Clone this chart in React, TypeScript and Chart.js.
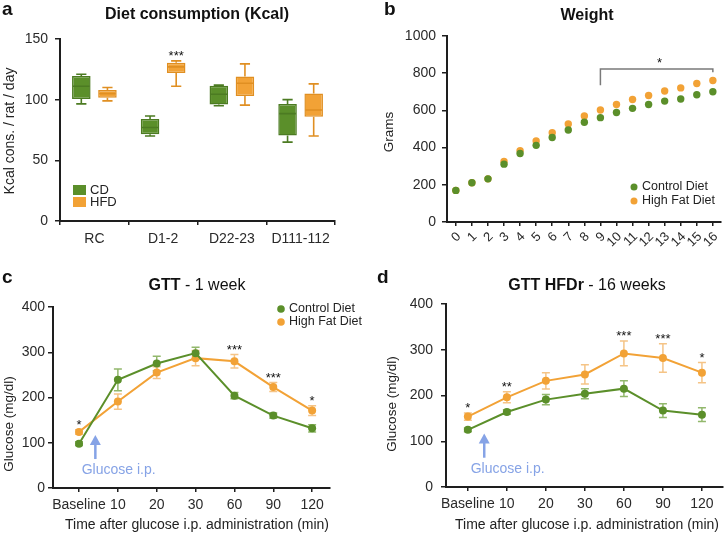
import React, { useEffect, useRef } from 'react';
import { Chart, registerables } from 'chart.js';

Chart.register(...registerables);

// ---------------- data ----------------
const dietCategories = ['RC', 'D1-2', 'D22-23', 'D111-112'];
const cdMin = [96.5, 70, 95, 65];
const cdQ1 = [100.5, 71.5, 96, 70.5];
const cdMedian = [111, 77, 104.5, 88.5];
const cdQ3 = [119.5, 84, 111.5, 96.5];
const cdMax = [121, 86.5, 112, 100];
const hfdMin = [99, 111, 95.5, 70];
const hfdQ1 = [101.5, 122, 103, 86];
const hfdMedian = [105, 127, 113.5, 91.5];
const hfdQ3 = [108, 130.5, 119, 105];
const hfdMax = [110, 132, 129.5, 113];
const dietStars = ['', '***', '', ''];
const dietTicks = [0, 50, 100, 150];

const weekLabels = ['0', '1', '2', '3', '4', '5', '6', '7', '8', '9', '10', '11', '12', '13', '14', '15', '16'];
const weightCD = [170, 211, 232, 311, 368, 412, 454, 495, 536, 561, 589, 611, 632, 650, 661, 684, 700];
const weightHFD = [170, 211, 232, 325, 384, 436, 480, 527, 570, 602, 632, 659, 680, 704, 721, 745, 761];
const weightBracket = [9, 16];

const gttLabels = ['Baseline', '10', '20', '30', '60', '90', '120'];
const gtt1CD = [98, 239, 275, 298, 204, 160, 132];
const gtt1CDErr = [4, 24, 16, 13, 7, 6, 8];
const gtt1HFD = [124, 191, 255, 287, 280, 223, 171];
const gtt1HFDErr = [5, 17, 13, 17, 15, 10, 11];
const gtt1Stars = ['*', '', '', '', '***', '***', '*'];

const gtt16CD = [125, 164, 191, 204, 215, 167, 158];
const gtt16CDErr = [4, 5, 11, 11, 17, 15, 15];
const gtt16HFD = [154, 196, 232, 246, 292, 282, 250];
const gtt16HFDErr = [8, 12, 18, 21, 27, 31, 22];
const gtt16Stars = ['*', '**', '', '', '***', '***', '*'];

// ---------------- style ----------------
const FONT = "'Liberation Sans', Arial, Helvetica, sans-serif";
const GREEN = '#5b8f2a';
const GREEN_DARK = '#4c7b22';
const GREEN_ERR = '#92b86c';
const ORANGE = '#f2a236';
const ORANGE_DARK = '#e08f22';
const ORANGE_ERR = '#f5c486';
const AXIS = '#1e1e1e';
const TEXT = '#222222';
const ARROW = '#86a3e6';
const BRACKET = '#7a7a7a';

Chart.defaults.font.family = FONT;
Chart.defaults.color = TEXT;

type Box = { left: number; top: number; right: number; bottom: number; w: number; h: number };

function font(size: number, bold = false) {
  return `${bold ? 'bold ' : ''}${size}px ${FONT}`;
}

function drawText(ctx: CanvasRenderingContext2D, s: string, x: number, y: number, f: string, color: string, align: CanvasTextAlign = 'center', baseline: CanvasTextBaseline = 'middle', rot = 0) {
  ctx.save();
  ctx.font = f;
  ctx.fillStyle = color;
  ctx.textAlign = align;
  ctx.textBaseline = baseline;
  ctx.translate(x, y);
  if (rot) ctx.rotate(rot);
  ctx.fillText(s, 0, 0);
  ctx.restore();
}

function drawTitle(ctx: CanvasRenderingContext2D, bold: string, normal: string, cx: number, cy: number) {
  ctx.save();
  ctx.font = font(16, true);
  const wb = ctx.measureText(bold).width;
  ctx.font = font(16);
  const wn = normal ? ctx.measureText(normal).width : 0;
  const x0 = cx - (wb + wn) / 2;
  drawText(ctx, bold, x0, cy, font(16, true), '#111', 'left');
  if (normal) drawText(ctx, normal, x0 + wb, cy, font(16), '#111', 'left');
  ctx.restore();
}

function drawStars(ctx: CanvasRenderingContext2D, s: string, x: number, centerY: number) {
  if (!s) return;
  drawText(ctx, s, x, centerY + 7, font(13), '#111', 'center', 'alphabetic');
}

function frame(b: Box) {
  return {
    padding: { left: 0, top: b.top, right: b.w - b.right, bottom: 0 },
    yFit: (s: any) => { s.width = b.left; },
    xFit: (s: any) => { s.height = b.h - b.bottom; },
  };
}

function axisBase(fontSize: number, padding: number, tickLength: number) {
  return {
    grid: { display: true, drawOnChartArea: false, drawTicks: true, tickLength, color: AXIS, tickColor: AXIS, lineWidth: 1.5 },
    border: { display: true, color: AXIS, width: 2 },
    ticks: { color: '#2a2a2a', font: { family: FONT, size: fontSize }, padding, autoSkip: false },
  };
}

// ---------------- panel a ----------------
function dietConfig(b: Box): any {
  const f = frame(b);
  const sets = [
    { min: cdMin, q1: cdQ1, med: cdMedian, q3: cdQ3, max: cdMax, stroke: GREEN_DARK },
    { min: hfdMin, q1: hfdQ1, med: hfdMedian, q3: hfdQ3, max: hfdMax, stroke: ORANGE_DARK },
  ];
  const plugin = {
    id: 'boxOverlay',
    afterDatasetsDraw(chart: any) {
      const ctx = chart.ctx as CanvasRenderingContext2D;
      const ys = chart.scales.y;
      const py = (v: number) => ys.getPixelForValue(v);
      sets.forEach((s, di) => {
        const meta = chart.getDatasetMeta(di);
        meta.data.forEach((el: any, i: number) => {
          const x = el.x;
          const hw = el.width / 2;
          const cap = hw * 0.55;
          ctx.save();
          ctx.strokeStyle = s.stroke;
          ctx.lineWidth = 1.6;
          ctx.beginPath();
          ctx.moveTo(x, py(s.q3[i])); ctx.lineTo(x, py(s.max[i]));
          ctx.moveTo(x - cap, py(s.max[i])); ctx.lineTo(x + cap, py(s.max[i]));
          ctx.moveTo(x, py(s.q1[i])); ctx.lineTo(x, py(s.min[i]));
          ctx.moveTo(x - cap, py(s.min[i])); ctx.lineTo(x + cap, py(s.min[i]));
          ctx.moveTo(x - hw + 1, py(s.med[i])); ctx.lineTo(x + hw - 1, py(s.med[i]));
          ctx.stroke();
          ctx.restore();
        });
      });
      const hMeta = chart.getDatasetMeta(1);
      dietStars.forEach((s, i) => {
        if (!s) return;
        drawStars(ctx, s, hMeta.data[i].x, py(hfdMax[i]) - 8);
      });
    },
    afterDraw(chart: any) {
      const ctx = chart.ctx as CanvasRenderingContext2D;
      drawText(ctx, 'a', 2, 15, font(19, true), '#111', 'left', 'alphabetic');
      drawTitle(ctx, 'Diet consumption (Kcal)', '', 197, 15);
      drawText(ctx, 'Kcal cons. / rat / day', 10, 131, font(14), TEXT, 'center', 'middle', -Math.PI / 2);
      ctx.save();
      ctx.fillStyle = GREEN; ctx.fillRect(73, 185, 13, 10);
      ctx.fillStyle = ORANGE; ctx.fillRect(73, 197, 13, 10);
      ctx.restore();
      drawText(ctx, 'CD', 90, 190, font(13), TEXT, 'left');
      drawText(ctx, 'HFD', 90, 202, font(13), TEXT, 'left');
    },
  };
  return {
    type: 'bar',
    data: {
      labels: dietCategories,
      datasets: [
        { label: 'CD', data: cdQ1.map((v, i) => [v, cdQ3[i]]), backgroundColor: GREEN, borderColor: GREEN_DARK, borderWidth: 1.5, borderSkipped: false },
        { label: 'HFD', data: hfdQ1.map((v, i) => [v, hfdQ3[i]]), backgroundColor: ORANGE, borderColor: ORANGE_DARK, borderWidth: 1.5, borderSkipped: false },
      ],
    },
    options: {
      responsive: false, devicePixelRatio: 1, animation: false,
      layout: { padding: f.padding },
      datasets: { bar: { categoryPercentage: 0.76, barPercentage: 0.71 } },
      plugins: { legend: { display: false }, tooltip: { enabled: false }, title: { display: false } },
      scales: {
        x: { ...axisBase(14, 6, 4), afterFit: f.xFit },
        y: {
          ...axisBase(14, 7, 5), min: 0, max: 150, afterFit: f.yFit,
          afterBuildTicks: (s: any) => { s.ticks = dietTicks.map((v) => ({ value: v })); },
        },
      },
    },
    plugins: [plugin],
  };
}

// ---------------- panel b ----------------
function weightConfig(b: Box): any {
  const f = frame(b);
  const plugin = {
    id: 'weightOverlay',
    afterDraw(chart: any) {
      const ctx = chart.ctx as CanvasRenderingContext2D;
      const xs = chart.scales.x, ys = chart.scales.y;
      drawText(ctx, 'b', 20, 15, font(19, true), '#111', 'left', 'alphabetic');
      drawTitle(ctx, 'Weight', '', 223, 16);
      drawText(ctx, 'Grams', 25, 132, font(13.5), TEXT, 'center', 'middle', -Math.PI / 2);
      const x1 = xs.getPixelForValue(weightBracket[0]);
      const x2 = xs.getPixelForValue(weightBracket[1]);
      const yb = ys.getPixelForValue(822);
      ctx.save();
      ctx.strokeStyle = BRACKET; ctx.lineWidth = 1.5;
      ctx.beginPath();
      ctx.moveTo(x1, ys.getPixelForValue(735)); ctx.lineTo(x1, yb); ctx.lineTo(x2, yb); ctx.lineTo(x2, ys.getPixelForValue(805));
      ctx.stroke();
      ctx.restore();
      drawStars(ctx, '*', (x1 + x2) / 2 + 3, yb - 9);
      const items = [['Control Diet', GREEN, 187], ['High Fat Diet', ORANGE, 201]] as const;
      items.forEach(([t, c, y]) => {
        ctx.save(); ctx.fillStyle = c; ctx.beginPath(); ctx.arc(270, y, 3.5, 0, Math.PI * 2); ctx.fill(); ctx.restore();
        drawText(ctx, t, 278, y, font(12.5), TEXT, 'left');
      });
    },
  };
  return {
    type: 'line',
    data: {
      datasets: [
        { label: 'Control Diet', data: weightCD.map((v, i) => ({ x: i, y: v })), showLine: false, pointRadius: 3.7, pointBorderWidth: 0, pointBackgroundColor: GREEN, backgroundColor: GREEN },
        { label: 'High Fat Diet', data: weightHFD.map((v, i) => ({ x: i, y: v })), showLine: false, pointRadius: 3.7, pointBorderWidth: 0, pointBackgroundColor: ORANGE, backgroundColor: ORANGE },
      ],
    },
    options: {
      responsive: false, devicePixelRatio: 1, animation: false,
      layout: { padding: f.padding },
      plugins: { legend: { display: false }, tooltip: { enabled: false } },
      scales: {
        x: {
          type: 'linear', min: -0.55, max: 16.47, afterFit: f.xFit,
          ...axisBase(13, 3, 4),
          ticks: { ...axisBase(13, 3, 4).ticks, stepSize: 1, minRotation: 45, maxRotation: 45, labelOffset: 3, includeBounds: false, callback: (v: number) => weekLabels[v] ?? '' },
        },
        y: {
          ...axisBase(14, 6, 5), min: 0, max: 1000, afterFit: f.yFit,
          ticks: { ...axisBase(14, 6, 5).ticks, stepSize: 200, callback: (v: number) => String(v) },
        },
      },
    },
    plugins: [plugin],
  };
}

// ---------------- panels c/d ----------------
function gttConfig(b: Box, p: any): any {
  const f = frame(b);
  const series = [
    { v: p.cd, e: p.cdErr, c: GREEN_ERR },
    { v: p.hfd, e: p.hfdErr, c: ORANGE_ERR },
  ];
  const plugin = {
    id: 'gttOverlay',
    beforeDatasetsDraw(chart: any) {
      const ctx = chart.ctx as CanvasRenderingContext2D;
      const xs = chart.scales.x, ys = chart.scales.y;
      series.forEach((s) => {
        ctx.save();
        ctx.strokeStyle = s.c; ctx.lineWidth = 1.5;
        ctx.beginPath();
        s.v.forEach((v: number, i: number) => {
          const x = xs.getPixelForValue(i);
          const t = ys.getPixelForValue(v + s.e[i]);
          const bt = ys.getPixelForValue(v - s.e[i]);
          ctx.moveTo(x, t); ctx.lineTo(x, bt);
          ctx.moveTo(x - 4, t); ctx.lineTo(x + 4, t);
          ctx.moveTo(x - 4, bt); ctx.lineTo(x + 4, bt);
        });
        ctx.stroke();
        ctx.restore();
      });
    },
    afterDraw(chart: any) {
      const ctx = chart.ctx as CanvasRenderingContext2D;
      const xs = chart.scales.x, ys = chart.scales.y;
      drawText(ctx, p.letter, p.letterX, 16, font(19, true), '#111', 'left', 'alphabetic');
      drawTitle(ctx, p.titleBold, p.titleNormal, p.titleX, 19);
      drawText(ctx, 'Glucose (mg/dl)', p.yTitle[0], p.yTitle[1], font(13.5), TEXT, 'center', 'middle', -Math.PI / 2);
      drawText(ctx, 'Time after glucose i.p. administration (min)', p.titleX, 258, font(14), TEXT);
      p.stars.forEach((s: string, i: number) => {
        if (!s) return;
        const top = Math.max(p.hfd[i] + p.hfdErr[i], p.cd[i] + p.cdErr[i]);
        drawStars(ctx, s, xs.getPixelForValue(i), ys.getPixelForValue(top) - 8);
      });
      const ax = xs.getPixelForValue(0.42);
      const tip = ys.getPixelForValue(117);
      const base = ys.getPixelForValue(64);
      ctx.save();
      ctx.strokeStyle = ARROW; ctx.fillStyle = ARROW; ctx.lineWidth = 2.5;
      ctx.beginPath(); ctx.moveTo(ax, base); ctx.lineTo(ax, tip + 8); ctx.stroke();
      ctx.beginPath(); ctx.moveTo(ax, tip); ctx.lineTo(ax - 5.5, tip + 10); ctx.lineTo(ax + 5.5, tip + 10); ctx.closePath(); ctx.fill();
      ctx.restore();
      drawText(ctx, 'Glucose i.p.', xs.getPixelForValue(1.02), base + 11, font(14), ARROW);
      if (p.legend) {
        const items = [['Control Diet', GREEN, 42], ['High Fat Diet', ORANGE, 55]] as const;
        items.forEach(([t, c, y]) => {
          ctx.save(); ctx.fillStyle = c; ctx.beginPath(); ctx.arc(281, y, 3.8, 0, Math.PI * 2); ctx.fill(); ctx.restore();
          drawText(ctx, t, 289, y, font(12.5), TEXT, 'left');
        });
      }
    },
  };
  const ds = (label: string, vals: number[], color: string) => ({
    label, data: vals.map((v, i) => ({ x: i, y: v })), borderColor: color, backgroundColor: color,
    pointBackgroundColor: color, pointBorderWidth: 0, pointRadius: 4, borderWidth: 2, tension: 0,
  });
  return {
    type: 'line',
    data: { datasets: [ds('Control Diet', p.cd, GREEN), ds('High Fat Diet', p.hfd, ORANGE)] },
    options: {
      responsive: false, devicePixelRatio: 1, animation: false,
      layout: { padding: f.padding },
      plugins: { legend: { display: false }, tooltip: { enabled: false } },
      scales: {
        x: {
          type: 'linear', min: p.xMin, max: p.xMax, afterFit: f.xFit,
          ...axisBase(14, 5, 4),
          ticks: { ...axisBase(14, 5, 4).ticks, stepSize: 1, maxRotation: 0, includeBounds: false, callback: (v: number) => gttLabels[v] ?? '' },
        },
        y: {
          ...axisBase(14, p.yPad, 5), min: 0, max: 400, afterFit: f.yFit,
          ticks: { ...axisBase(14, p.yPad, 5).ticks, stepSize: 100 },
        },
      },
    },
    plugins: [plugin],
  };
}

// ---------------- components ----------------
function Panel({ left, top, w, h, make }: { left: number; top: number; w: number; h: number; make: () => any }) {
  const ref = useRef<HTMLCanvasElement | null>(null);
  useEffect(() => {
    if (!ref.current) return;
    const chart = new Chart(ref.current, make());
    return () => chart.destroy();
  }, []);
  return (
    <canvas ref={ref} width={w} height={h}
      style={{ position: 'absolute', left, top, width: w, height: h, display: 'block' }} />
  );
}

export default function App() {
  return (
    <div style={{ position: 'absolute', left: 0, top: 0, width: 727, height: 535, background: '#ffffff', overflow: 'hidden' }}>
      <Panel left={0} top={0} w={364} h={267}
        make={() => dietConfig({ left: 60, top: 39, right: 335, bottom: 221, w: 364, h: 267 })} />
      <Panel left={364} top={0} w={363} h={267}
        make={() => weightConfig({ left: 83, top: 36, right: 362, bottom: 222, w: 363, h: 267 })} />
      <Panel left={0} top={267} w={364} h={268}
        make={() => gttConfig({ left: 53, top: 40, right: 330, bottom: 221, w: 364, h: 268 }, {
          cd: gtt1CD, cdErr: gtt1CDErr, hfd: gtt1HFD, hfdErr: gtt1HFDErr, stars: gtt1Stars,
          xMin: -0.67, xMax: 6.46, letter: 'c', letterX: 2, titleBold: 'GTT', titleNormal: ' - 1 week', titleX: 197,
          yTitle: [9, 157], legend: true, yPad: 3,
        })} />
      <Panel left={364} top={267} w={363} h={268}
        make={() => gttConfig({ left: 82, top: 37, right: 362, bottom: 220, w: 363, h: 268 }, {
          cd: gtt16CD, cdErr: gtt16CDErr, hfd: gtt16HFD, hfdErr: gtt16HFDErr, stars: gtt16Stars,
          xMin: -0.56, xMax: 6.54, letter: 'd', letterX: 13, titleBold: 'GTT HFDr', titleNormal: ' - 16 weeks', titleX: 223,
          yTitle: [28, 137], legend: false, yPad: 8,
        })} />
    </div>
  );
}
